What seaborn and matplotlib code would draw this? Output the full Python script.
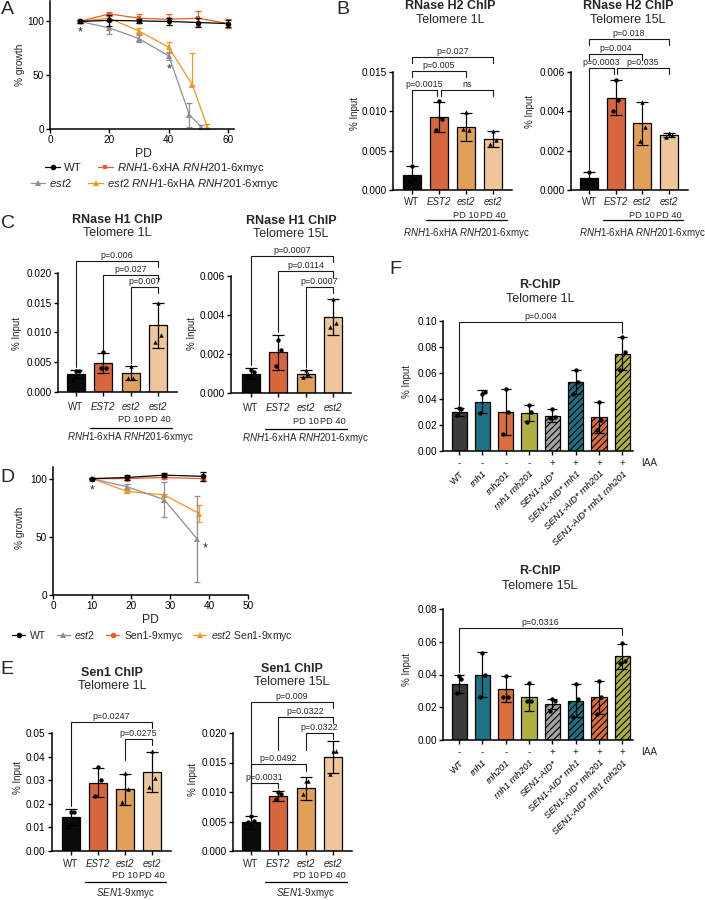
import numpy as np
import pandas as pd
import matplotlib
matplotlib.use("Agg")
import matplotlib.pyplot as plt
import seaborn as sns
from matplotlib.ticker import FormatStrFormatter

sns.set_theme(style="ticks")
plt.rcParams["font.family"] = ["Liberation Sans", "DejaVu Sans"]
plt.rcParams["mathtext.fontset"] = "custom"
plt.rcParams["mathtext.rm"] = "Liberation Sans"
plt.rcParams["mathtext.it"] = "Liberation Sans:italic"
plt.rcParams["mathtext.bf"] = "Liberation Sans:bold"
plt.rcParams["hatch.linewidth"] = 0.8
plt.rcParams["hatch.color"] = "#1a1a1a"

# ====================== DATA ======================
# Panel A (senescence, % growth vs PD)
A_wt_pd = [10, 20, 30, 40, 50, 60]
A_wt = [100, 101, 100.5, 100, 99, 98]
A_wt_sd = [1, 5, 2, 3, 4, 3]
A_rnh_pd = [10, 20, 30, 40, 50, 60]
A_rnh = [100, 107, 103, 102, 103, 98]
A_rnh_sd = [1, 2, 4, 5, 7, 4]
A_est2_pd = [10, 20, 30, 40, 47, 51]
A_est2 = [100, 94, 84, 68, 13, 2]
A_est2_sd = [1, 6, 3, 4, 11, 2]
A_est2rnh_pd = [10, 20, 30, 40, 48, 53]
A_est2rnh = [100, 103, 91, 76, 41, 2]
A_est2rnh_sd_lo = [1, 3, 3, 5, 0, 2]
A_est2rnh_sd_hi = [1, 3, 3, 5, 30, 3]
A_legend = ["WT", r"$\mathit{RNH1}$-6xHA $\mathit{RNH201}$-6xmyc",
            r"$\mathit{est2}$", r"$\mathit{est2}$ $\mathit{RNH1}$-6xHA $\mathit{RNH201}$-6xmyc"]

# Panel D
D_wt_pd = [10, 19, 28.5, 38.5]
D_wt = [100, 101, 103, 102]
D_wt_sd = [0.5, 2, 1.5, 4]
D_est2_pd = [10, 19, 28.5, 37]
D_est2 = [100, 93, 82, 48]
D_est2_sd = [0.5, 2, 15, 37]
D_sen1_pd = [10, 19, 28.5, 38.5]
D_sen1 = [100, 100, 101, 100]
D_sen1_sd = [0.5, 1, 1, 2]
D_est2sen1_pd = [10, 19, 28.5, 37.5]
D_est2sen1 = [100, 89, 86, 70]
D_est2sen1_sd = [0.5, 1.5, 1, 7]
D_legend = ["WT", r"$\mathit{est2}$", "Sen1-9xmyc", r"$\mathit{est2}$ Sen1-9xmyc"]

# 4-bar ChIP panels
groups4 = ["WT", "EST2", "est2 PD 10", "est2 PD 40"]
group_line1 = ["WT", "EST2", "est2", "est2"]
group_line2 = ["", "", "PD 10", "PD 40"]
group_style = ["normal", "italic", "italic", "italic"]
markers4 = ["o", "o", "^", "^"]

B1_mean = [0.0019, 0.0093, 0.0080, 0.0065]
B1_sd = [0.0012, 0.0019, 0.0018, 0.0010]
B1_pts = [[0.0031, 0.0014, 0.0012], [0.0113, 0.0090, 0.0076], [0.0099, 0.0076, 0.0078], [0.0075, 0.0063, 0.0058]]
B1_p = ["p=0.0015", "ns", "p=0.005", "p=0.027"]

B2_mean = [0.0006, 0.0047, 0.0034, 0.0028]
B2_sd = [0.0003, 0.0009, 0.0011, 0.0001]
B2_pts = [[0.0009, 0.0005, 0.0004], [0.0056, 0.0046, 0.0040], [0.0045, 0.0032, 0.0025], [0.0029, 0.0028, 0.0027]]
B2_p = ["p=0.0003", "p=0.035", "p=0.004", "p=0.018"]

C1_mean = [0.0030, 0.0049, 0.0032, 0.0112]
C1_sd = [0.0007, 0.0017, 0.0012, 0.0038]
C1_pts = [[0.0035, 0.0035, 0.0020], [0.0067, 0.0040, 0.0040], [0.0044, 0.0024, 0.0024], [0.0150, 0.0096, 0.0084]]
C1_p = ["p=0.006", "p=0.027", "p=0.007"]

C2_mean = [0.0010, 0.0021, 0.0010, 0.0039]
C2_sd = [0.0003, 0.0009, 0.0002, 0.0009]
C2_pts = [[0.0012, 0.0011, 0.0008], [0.0027, 0.0022, 0.0014], [0.0012, 0.0010, 0.0008], [0.0048, 0.0036, 0.0034]]
C2_p = ["p=0.0007", "p=0.0114", "p=0.0007"]

E1_mean = [0.0143, 0.0289, 0.0262, 0.0335]
E1_sd = [0.0034, 0.0061, 0.0065, 0.0086]
E1_pts = [[0.0164, 0.0164, 0.0101], [0.0354, 0.0300, 0.0232], [0.0330, 0.0262, 0.0209], [0.0425, 0.0310, 0.0270]]
E1_p = ["p=0.0247", "p=0.0275"]

E2_mean = [0.0049, 0.0093, 0.0106, 0.0159]
E2_sd = [0.0011, 0.0008, 0.0020, 0.0027]
E2_pts = [[0.0060, 0.0051, 0.0049], [0.0100, 0.0096, 0.0088], [0.0119, 0.0119, 0.0097], [0.0170, 0.0170, 0.0130]]
E2_p = ["p=0.009", "p=0.0322", "p=0.0322", "p=0.0492", "p=0.0031"]

# Panel F (R-ChIP)
F_strains = ["WT", "rnh1", "rnh201", "rnh1 rnh201", "SEN1-AID*", "SEN1-AID* rnh1",
             "SEN1-AID* rnh201", "SEN1-AID* rnh1 rnh201"]
F_iaa = ["-", "-", "-", "-", "+", "+", "+", "+"]
F1_mean = [0.030, 0.038, 0.030, 0.029, 0.027, 0.053, 0.026, 0.075]
F1_sd = [0.003, 0.009, 0.018, 0.006, 0.005, 0.009, 0.012, 0.013]
F1_pts = [[0.033, 0.032, 0.028], [0.044, 0.045, 0.029], [0.048, 0.030, 0.013], [0.035, 0.030, 0.022],
          [0.032, 0.026, 0.025], [0.062, 0.053, 0.044], [0.038, 0.024, 0.016], [0.088, 0.076, 0.062]]
F1_p = "p=0.004"
F2_mean = [0.034, 0.040, 0.031, 0.026, 0.022, 0.024, 0.026, 0.051]
F2_sd = [0.0055, 0.0135, 0.008, 0.0085, 0.003, 0.010, 0.010, 0.0075]
F2_pts = [[0.039, 0.037, 0.029], [0.053, 0.040, 0.026], [0.039, 0.026, 0.026], [0.035, 0.024, 0.024],
          [0.025, 0.024, 0.018], [0.034, 0.025, 0.014], [0.036, 0.026, 0.016], [0.059, 0.048, 0.047]]
F2_p = "p=0.0316"

# ====================== STYLE ======================
C_WT = "#0b0b0b"
C_EST2 = "#F15A22"
C_PD10 = "#F7A144"
C_PD40 = "#FDC78C"
C_GRAY = "#8f8f8f"
C_ORANGE = "#F7931E"
colors4 = [C_WT, C_EST2, C_PD10, C_PD40]
F_colors = ["#3a3a3a", "#0E7D96", "#F26522", "#C3C32D", "#A3A3A3", "#0E7D96", "#F26522", "#C3C32D"]
F_hatched = [False, False, False, False, True, True, True, True]

FS_TICK = 7.2
FS_TITLE = 9
FS_P = 6.4
FS_GRP = 7
FS_GRP2 = 6.7
FS_YLAB = 7

W, H = 705, 900
fig = plt.figure(figsize=(W / 100, H / 100), dpi=100)


def add_ax(l, t, r, b):
    ax = fig.add_axes([l / W, 1 - b / H, (r - l) / W, (b - t) / H])
    ax._t, ax._b = t, b
    return ax


def ftext(x, y, s, **kw):
    kw.setdefault("ha", "center")
    kw.setdefault("va", "center")
    fig.text(x / W, 1 - y / H, s, **kw)


def style(ax, xlim, ylim, yticks, fmt=None, xticks=None):
    ax.set_xlim(*xlim)
    ax.set_ylim(*ylim)
    ax.set_yticks(yticks)
    if fmt:
        ax.yaxis.set_major_formatter(FormatStrFormatter(fmt))
    if xticks is not None:
        ax.set_xticks(xticks)
    sns.despine(ax=ax)
    for s in ("left", "bottom"):
        ax.spines[s].set_linewidth(1.1)
        ax.spines[s].set_color("black")
    ax.tick_params(axis="both", length=3, width=1.0, labelsize=FS_TICK, pad=1.5,
                   color="black", labelcolor="black")
    ax.set_xlabel("")
    ax.set_ylabel("")
    ax.set_facecolor("none")


def bar_panel(ax, cats, means, sds, pts, colors, markers, width, capsize, ms=10):
    df = pd.DataFrame({"grp": cats, "val": means})
    sns.barplot(data=df, x="grp", y="val", hue="grp", order=cats, hue_order=cats,
                palette=dict(zip(cats, colors)), legend=False, width=width,
                edgecolor="black", linewidth=0.9, errorbar=None, ax=ax, zorder=2)
    xs = np.arange(len(cats))
    ax.errorbar(xs, means, yerr=sds, fmt="none", ecolor="black", elinewidth=0.9,
                capsize=capsize, capthick=0.9, zorder=4, clip_on=False)
    offs = [0.0, 0.1, -0.1]
    for i, vals in enumerate(pts):
        ax.scatter(xs[i] + np.array(offs[:len(vals)]), vals, marker=markers[i], s=ms,
                   color="black", linewidths=0, zorder=5, clip_on=False)


def group_labels(ax, offs, line_x, subtitle):
    tr = ax.get_xaxis_transform()
    hpx = ax._b - ax._t
    for i in range(4):
        ax.text(i, -offs[0] / hpx, group_line1[i], transform=tr, ha="center", va="center",
                fontsize=FS_GRP, style=group_style[i])
        if group_line2[i]:
            ax.text(i, -offs[1] / hpx, group_line2[i], transform=tr, ha="center", va="center",
                    fontsize=FS_GRP2)
    ax.plot(line_x, [-offs[2] / hpx] * 2, transform=tr, color="black", lw=0.9, clip_on=False)
    ax.text(2, -offs[3] / hpx, subtitle, transform=tr, ha="center", va="center", fontsize=FS_GRP)


def bracket(ax, x1, x2, ypx, text, l1=None, l2=None, fs=FS_P):
    y0, y1 = ax.get_ylim()
    u = (y1 - y0) / (ax._b - ax._t)

    def tod(p):
        return y0 + (ax._b - p) * u

    y = tod(ypx)

    def leg(l):
        if l is None:
            return y - 6 * u
        if isinstance(l, tuple):
            return tod(l[0])
        return l + 3 * u

    ax.plot([x1, x1, x2, x2], [leg(l1), y, y, leg(l2)], color="#1a1a1a", lw=0.8,
            clip_on=False, zorder=6)
    ax.text((x1 + x2) / 2, y + 1.0 * u, text, ha="center", va="bottom", fontsize=fs,
            clip_on=False)


def tops(means, sds):
    return [m + s for m, s in zip(means, sds)]


def line_series(ax, x, y, err, color, marker, ms=4):
    sns.lineplot(x=x, y=y, color=color, marker=marker, markersize=ms, markeredgecolor=color,
                 markeredgewidth=0, linewidth=0.9, ax=ax, clip_on=False)
    ln = ax.lines[-1]
    ax.errorbar(x, y, yerr=err, fmt="none", ecolor=color, elinewidth=0.9, capsize=2.5,
                capthick=0.9, clip_on=False)
    return ln


# ====================== PANEL A ======================
axA = add_ax(50, 1, 234, 129)
h_er = line_series(axA, A_est2rnh_pd, A_est2rnh, [A_est2rnh_sd_lo, A_est2rnh_sd_hi], C_ORANGE, "^")
h_e = line_series(axA, A_est2_pd, A_est2, A_est2_sd, C_GRAY, "^")
h_r = line_series(axA, A_rnh_pd, A_rnh, A_rnh_sd, C_EST2, "s", 3.5)
h_w = line_series(axA, A_wt_pd, A_wt, A_wt_sd, "black", "o")
style(axA, (0, 62), (0, 119), [0, 50, 100], xticks=[0, 20, 40, 60])
axA.text(10, 90, "*", ha="center", va="center", fontsize=9)
axA.text(40, 55, "*", ha="center", va="center", fontsize=9)
ftext(143, 154, "PD", fontsize=8.7)
ftext(20, 65, "% growth", rotation=90, fontsize=7.3)
legkw = dict(loc="center", ncol=2, frameon=False, fontsize=8.2, handlelength=1.3,
             handletextpad=0.35, columnspacing=1.4, borderpad=0, borderaxespad=0)
fig.legend([h_w, h_r], A_legend[:2], bbox_to_anchor=(155 / W, 1 - 168 / H), **legkw)
fig.legend([h_e, h_er], A_legend[2:], bbox_to_anchor=(155 / W, 1 - 184 / H), **legkw)

# ====================== PANEL B ======================
sub_rnh = r"$\mathit{RNH1}$-6xHA $\mathit{RNH201}$-6xmyc"
axB1 = add_ax(393, 72, 512, 190)
bar_panel(axB1, groups4, B1_mean, B1_sd, B1_pts, colors4, markers4, 0.68, 4.3)
style(axB1, (-0.7, 3.7), (0, 0.015), [0, 0.005, 0.010, 0.015], "%.3f", xticks=range(4))
axB1.set_xticklabels([""] * 4)
group_labels(axB1, [12, 25, 30, 43], [0.52, 3.53], sub_rnh)
t = tops(B1_mean, B1_sd)
bracket(axB1, 0, 0.94, 90, B1_p[0], l1=t[0])
bracket(axB1, 1.06, 3, 90, B1_p[1])
bracket(axB1, 0, 2, 71, B1_p[2])
bracket(axB1, 0, 3, 57, B1_p[3])

axB2 = add_ax(571, 72, 688, 190)
bar_panel(axB2, groups4, B2_mean, B2_sd, B2_pts, colors4, markers4, 0.68, 4.3)
style(axB2, (-0.68, 3.72), (0, 0.006), [0, 0.002, 0.004, 0.006], "%.3f", xticks=range(4))
axB2.set_xticklabels([""] * 4)
group_labels(axB2, [12, 25, 30, 43], [0.52, 3.53], sub_rnh)
t = tops(B2_mean, B2_sd)
bracket(axB2, 0, 0.94, 68, B2_p[0], l1=t[0])
bracket(axB2, 1.06, 3, 68, B2_p[1])
bracket(axB2, 0, 2, 54, B2_p[2])
bracket(axB2, 0, 3, 39, B2_p[3])

ftext(450, 6, "RNase H2 ChIP", fontsize=FS_TITLE, fontweight="bold")
ftext(450, 20, "Telomere 1L", fontsize=FS_TITLE)
ftext(628, 6, "RNase H2 ChIP", fontsize=FS_TITLE, fontweight="bold")
ftext(628, 20, "Telomere 15L", fontsize=FS_TITLE)
ftext(355, 113, "% Input", rotation=90, fontsize=FS_YLAB)
ftext(530, 112, "% Input", rotation=90, fontsize=FS_YLAB)

# ====================== PANEL C ======================
axC1 = add_ax(58, 273, 177, 392)
bar_panel(axC1, groups4, C1_mean, C1_sd, C1_pts, colors4, markers4, 0.66, 4.3)
style(axC1, (-0.66, 3.7), (0, 0.020), [0, 0.005, 0.010, 0.015, 0.020], "%.3f", xticks=range(4))
axC1.set_xticklabels([""] * 4)
group_labels(axC1, [15, 28, 36, 45], [0.51, 3.52], sub_rnh)
t = tops(C1_mean, C1_sd)
bracket(axC1, 0, 3, 261, C1_p[0], l1=t[0])
bracket(axC1, 1, 3, 275, C1_p[1], l1=t[1])
bracket(axC1, 2, 3, 287, C1_p[2], l1=t[2])

axC2 = add_ax(231, 276, 351, 393)
bar_panel(axC2, groups4, C2_mean, C2_sd, C2_pts, colors4, markers4, 0.66, 4.3)
style(axC2, (-0.73, 3.66), (0, 0.006), [0, 0.002, 0.004, 0.006], "%.3f", xticks=range(4))
axC2.set_xticklabels([""] * 4)
group_labels(axC2, [15, 28, 36, 45], [0.51, 3.52], sub_rnh)
t = tops(C2_mean, C2_sd)
bracket(axC2, 0, 3, 256, C2_p[0], l1=t[0])
bracket(axC2, 1, 3, 271, C2_p[1], l1=t[1])
bracket(axC2, 2, 3, 287, C2_p[2], l1=t[2])

ftext(117, 220, "RNase H1 ChIP", fontsize=FS_TITLE, fontweight="bold")
ftext(117, 233, "Telomere 1L", fontsize=FS_TITLE)
ftext(291, 221, "RNase H1 ChIP", fontsize=FS_TITLE, fontweight="bold")
ftext(291, 234, "Telomere 15L", fontsize=FS_TITLE)
ftext(17, 333, "% Input", rotation=90, fontsize=FS_YLAB)
ftext(192, 333, "% Input", rotation=90, fontsize=FS_YLAB)

# ====================== PANEL D ======================
axD = add_ax(53, 467, 248, 595)
g_es = line_series(axD, D_est2sen1_pd, D_est2sen1, D_est2sen1_sd, C_ORANGE, "^")
g_e = line_series(axD, D_est2_pd, D_est2, D_est2_sd, C_GRAY, "^")
g_s = line_series(axD, D_sen1_pd, D_sen1, D_sen1_sd, C_EST2, "o")
g_w = line_series(axD, D_wt_pd, D_wt, D_wt_sd, "black", "o")
style(axD, (0, 50), (0, 110), [0, 50, 100], xticks=[0, 10, 20, 30, 40, 50])
axD.text(10, 90, "*", ha="center", va="center", fontsize=9)
axD.text(39, 40, "*", ha="center", va="center", fontsize=9)
ftext(150, 620, "PD", fontsize=8.7)
ftext(20, 528, "% growth", rotation=90, fontsize=7.3)
fig.legend([g_w, g_e, g_s, g_es], D_legend, loc="center left",
           bbox_to_anchor=(12 / W, 1 - 636 / H), ncol=4, frameon=False, fontsize=7.5,
           handlelength=1.25, handletextpad=0.45, columnspacing=1.05, borderpad=0, borderaxespad=0)

# ====================== PANEL E ======================
sub_sen = r"$\mathit{SEN1}$-9xmyc"
axE1 = add_ax(52, 733, 171, 851)
bar_panel(axE1, groups4, E1_mean, E1_sd, E1_pts, colors4, markers4, 0.66, 4.3)
style(axE1, (-0.7, 3.7), (0, 0.05), [0, 0.01, 0.02, 0.03, 0.04, 0.05], "%.2f", xticks=range(4))
axE1.set_xticklabels([""] * 4)
group_labels(axE1, [13, 24, 31, 42], [0.52, 3.52], sub_sen)
t = tops(E1_mean, E1_sd)
bracket(axE1, 0, 3, 722, E1_p[0], l1=t[0])
bracket(axE1, 2, 3, 739, E1_p[1], l1=(760,))

axE2 = add_ax(233, 733, 352, 851)
bar_panel(axE2, groups4, E2_mean, E2_sd, E2_pts, colors4, markers4, 0.66, 4.3)
style(axE2, (-0.66, 3.7), (0, 0.020), [0, 0.005, 0.010, 0.015, 0.020], "%.3f", xticks=range(4))
axE2.set_xticklabels([""] * 4)
group_labels(axE2, [13, 24, 31, 42], [0.52, 3.52], sub_sen)
t = tops(E2_mean, E2_sd)
bracket(axE2, 0, 3, 702, E2_p[0], l1=t[0])
bracket(axE2, 1, 3, 717, E2_p[1], l1=(750,))
bracket(axE2, 2, 3, 733, E2_p[2], l1=(750,))
bracket(axE2, 0, 2, 764, E2_p[3], l1=t[0], l2=(771,))
bracket(axE2, 0, 1, 783, E2_p[4], l1=t[0], l2=t[1])

ftext(112, 673, "Sen1 ChIP", fontsize=FS_TITLE, fontweight="bold")
ftext(112, 686, "Telomere 1L", fontsize=FS_TITLE)
ftext(292, 669, "Sen1 ChIP", fontsize=FS_TITLE, fontweight="bold")
ftext(292, 682, "Telomere 15L", fontsize=FS_TITLE)
ftext(18, 778, "% Input", rotation=90, fontsize=FS_YLAB)
ftext(193, 780, "% Input", rotation=90, fontsize=FS_YLAB)


# ====================== PANEL F ======================
def f_panel(ax, means, sds, pts, ylim, yticks, ptext, bpx, rpx):
    bar_panel(ax, F_strains, means, sds, pts, F_colors, ["o"] * 8, 0.65, 3.6)
    for patch, hat in zip(ax.patches, F_hatched):
        if hat:
            patch.set_hatch("/////")
    style(ax, (-0.69, 7.46), ylim, yticks, "%.2f", xticks=range(8))
    ax.set_xticklabels(F_strains, rotation=45, ha="right", rotation_mode="anchor", fontsize=6.8)
    ax.tick_params(axis="x", pad=10)
    for lbl in ax.get_xticklabels()[1:]:
        lbl.set_fontstyle("italic")
    tr = ax.get_xaxis_transform()
    hpx = ax._b - ax._t
    for i, s in enumerate(F_iaa):
        ax.text(i, -12 / hpx, s, transform=tr, ha="center", va="center", fontsize=7)
    ax.text(8.15, -12 / hpx, "IAA", transform=tr, ha="center", va="center", fontsize=7.2)
    t = tops(means, sds)
    bracket(ax, 0, 7, bpx, ptext, l1=t[0], l2=(rpx,))


axF1 = add_ax(443, 321, 633, 451)
f_panel(axF1, F1_mean, F1_sd, F1_pts, (0, 0.10), [0, 0.02, 0.04, 0.06, 0.08, 0.10], F1_p, 322, 333)
axF2 = add_ax(443, 609, 633, 740)
f_panel(axF2, F2_mean, F2_sd, F2_pts, (0, 0.08), [0, 0.02, 0.04, 0.06, 0.08], F2_p, 628, 635)

ftext(540, 285, "R-ChIP", fontsize=FS_TITLE, fontweight="bold")
ftext(540, 299, "Telomere 1L", fontsize=FS_TITLE)
ftext(540, 571, "R-ChIP", fontsize=FS_TITLE, fontweight="bold")
ftext(540, 586, "Telomere 15L", fontsize=FS_TITLE)
ftext(407, 382, "% Input", rotation=90, fontsize=FS_YLAB)
ftext(407, 670, "% Input", rotation=90, fontsize=FS_YLAB)

# ====================== PANEL LETTERS ======================
for s, x, y in [("A", 7, 10), ("B", 343, 10), ("C", 8, 223), ("D", 7, 478), ("E", 7, 670), ("F", 395, 270)]:
    ftext(x, y, s, fontsize=14)

fig.savefig("out.png", dpi=100)
